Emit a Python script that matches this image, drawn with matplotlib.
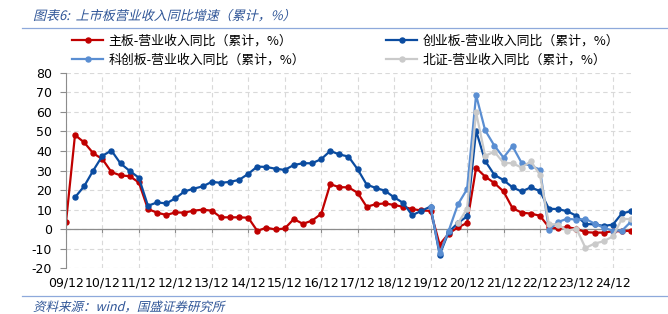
# Listed-board revenue growth (cumulative YoY, %) by board, quarterly
import numpy as np
import pandas as pd
import matplotlib
matplotlib.use('Agg')
import matplotlib.pyplot as plt
import matplotlib.dates as mdates
from matplotlib.font_manager import FontProperties
from matplotlib.textpath import TextPath
from matplotlib.patches import PathPatch
from matplotlib.transforms import Affine2D, IdentityTransform

plt.rcParams['font.family'] = ['Noto Sans CJK SC', 'DejaVu Sans']
plt.rcParams['axes.unicode_minus'] = False

#---------- DATA ----------
# quarter ends from 2009-12 to 2025-06
quarters = pd.date_range('2009-12-31', '2025-06-30', freq='QE')

main_board = [3.6, 48.1, 44.4, 38.8, 35.8, 29.2, 27.5, 27.1, 23.9, 10.3,
              8.5, 7.3, 8.6, 8.5, 9.5, 10.0, 9.5, 6.1, 6.1, 6.1,
              5.9, -0.8, 0.8, -0.1, 0.4, 5.2, 2.8, 4.4, 7.9, 23.0,
              21.5, 21.4, 18.6, 11.5, 12.8, 13.2, 12.4, 11.5, 10.3, 9.6,
              9.4, -7.8, -2.2, 1.0, 3.2, 31.3, 26.9, 23.6, 19.3, 10.8,
              8.5, 8.0, 6.9, 1.0, 0.5, 1.0, 0.3, -1.5, -1.7, -1.7,
              -1.0, -1.0, -0.7]

chinext = [None, 16.3, 21.9, 30.0, 37.5, 40.2, 33.6, 29.8, 26.3, 12.0,
           13.7, 13.2, 15.8, 19.3, 20.7, 21.9, 24.2, 23.7, 24.2, 25.2,
           28.3, 32.0, 31.8, 30.9, 30.3, 32.8, 33.7, 33.7, 35.8, 40.0,
           38.2, 37.1, 30.6, 22.8, 21.1, 19.7, 16.3, 13.5, 7.2, 9.4,
           11.6, -13.0, -1.4, 3.2, 6.6, 50.3, 34.9, 27.8, 25.1, 21.4,
           19.3, 21.4, 19.5, 10.5, 10.3, 9.2, 6.9, 2.7, 2.5, 1.7,
           2.4, 8.1, 9.2]

star_market = [None] * 40 + [11.5, -12.3, -0.7, 12.7, 20.5, 68.5, 50.5, 42.7, 36.6, 42.4,
                             33.9, 32.4, 30.5, -0.3, 3.7, 5.4, 4.9, 5.3, 2.9, 0.8,
                             -0.7, -0.7, 3.9]

bse = [None] * 43 + [3.0, 10.5, 59.7, 37.5, 39.6, 33.9, 33.7, 31.5, 34.7, 27.8,
                     2.7, 2.4, -0.7, 0.3, -9.5, -7.3, -6.1, -3.6, 5.3, 5.2]

labels = ['主板-营业收入同比（累计，%）', '创业板-营业收入同比（累计，%）',
          '科创板-营业收入同比（累计，%）', '北证-营业收入同比（累计，%）']
colors = ['#C00000', '#0B4CA0', '#5A8ED2', '#CACACA']

title = '图表6:  上市板营业收入同比增速（累计，%）'
source = '资料来源：wind，国盛证券研究所'

#---------- PLOT ----------
fig = plt.figure(figsize=(6.68, 3.14), dpi=100)
ax = fig.add_axes([0.0988, 0.145, 0.8458, 0.624])

series = [main_board, chinext, star_market, bse]
lines = []
for vals, lab, col in zip(series, labels, colors):
    y = np.array([np.nan if v is None else v for v in vals], dtype=float)
    ln, = ax.plot(quarters, y, color=col, lw=1.6, marker='o', ms=3.6,
                  label=lab, solid_joinstyle='round')
    lines.append(ln)

ax.set_ylim(-20, 80)
ax.set_yticks(np.arange(-20, 81, 10))
ax.set_xlim(quarters[0], quarters[-1])
year_ticks = pd.date_range('2009-12-31', '2024-12-31', freq='YE')
ax.set_xticks(year_ticks)
ax.xaxis.set_major_formatter(mdates.DateFormatter('%y/%m'))

ax.grid(True, color='#D9D9D9', linestyle=(0, (4, 3)), lw=0.8)
ax.set_axisbelow(True)
ax.axhline(0, color='#8C8C8C', lw=0.9, zorder=1)
for s in ['top', 'right', 'bottom']:
    ax.spines[s].set_visible(False)
ax.spines['left'].set_color('#8C8C8C')
ax.tick_params(axis='y', length=4, color='#8C8C8C', labelsize=9, pad=6)
ax.tick_params(axis='x', length=0, labelsize=9, pad=6)
for t in ax.get_xticklabels() + ax.get_yticklabels():
    t.set_family('DejaVu Sans')

# small tick marks on the zero line
sec = ax.secondary_xaxis(0.2)
sec.set_xticks(year_ticks)
sec.tick_params(length=3, color='#8C8C8C', labelbottom=False)
sec.spines['bottom'].set_visible(False)

# legend: two columns at the top
order = [0, 2, 1, 3]
fig.legend([lines[i] for i in order], [labels[i] for i in order],
           loc='upper left', bbox_to_anchor=(72 / 668, 1 - 35 / 314),
           ncol=2, frameon=False, fontsize=9.3, borderpad=0, borderaxespad=0,
           handlelength=2.4, handletextpad=0.4, columnspacing=6.3,
           labelspacing=0.4)


# fake italic text (the CJK font has no italic face)
def slanted_text(x_px, y_px, s, size_px, color):
    fp = FontProperties(family='Noto Sans CJK SC')
    tp = TextPath((0, 0), s, size=size_px, prop=fp)
    tr = Affine2D().skew_deg(14, 0).translate(x_px, y_px)
    fig.add_artist(PathPatch(tr.transform_path(tp), facecolor=color,
                             edgecolor='none', transform=IdentityTransform()))


slanted_text(33, 314 - 20, title, 13, '#2F5597')
slanted_text(33, 314 - 311, source, 12.5, '#2F5597')

# separator lines
fig.add_artist(plt.Line2D([22 / 668, 1], [1 - 28 / 314, 1 - 28 / 314],
                          color='#8EA9DB', lw=0.9))
fig.add_artist(plt.Line2D([22 / 668, 1], [1 - 296 / 314, 1 - 296 / 314],
                          color='#8EA9DB', lw=0.9))

fig.savefig('out.png', dpi=100)
